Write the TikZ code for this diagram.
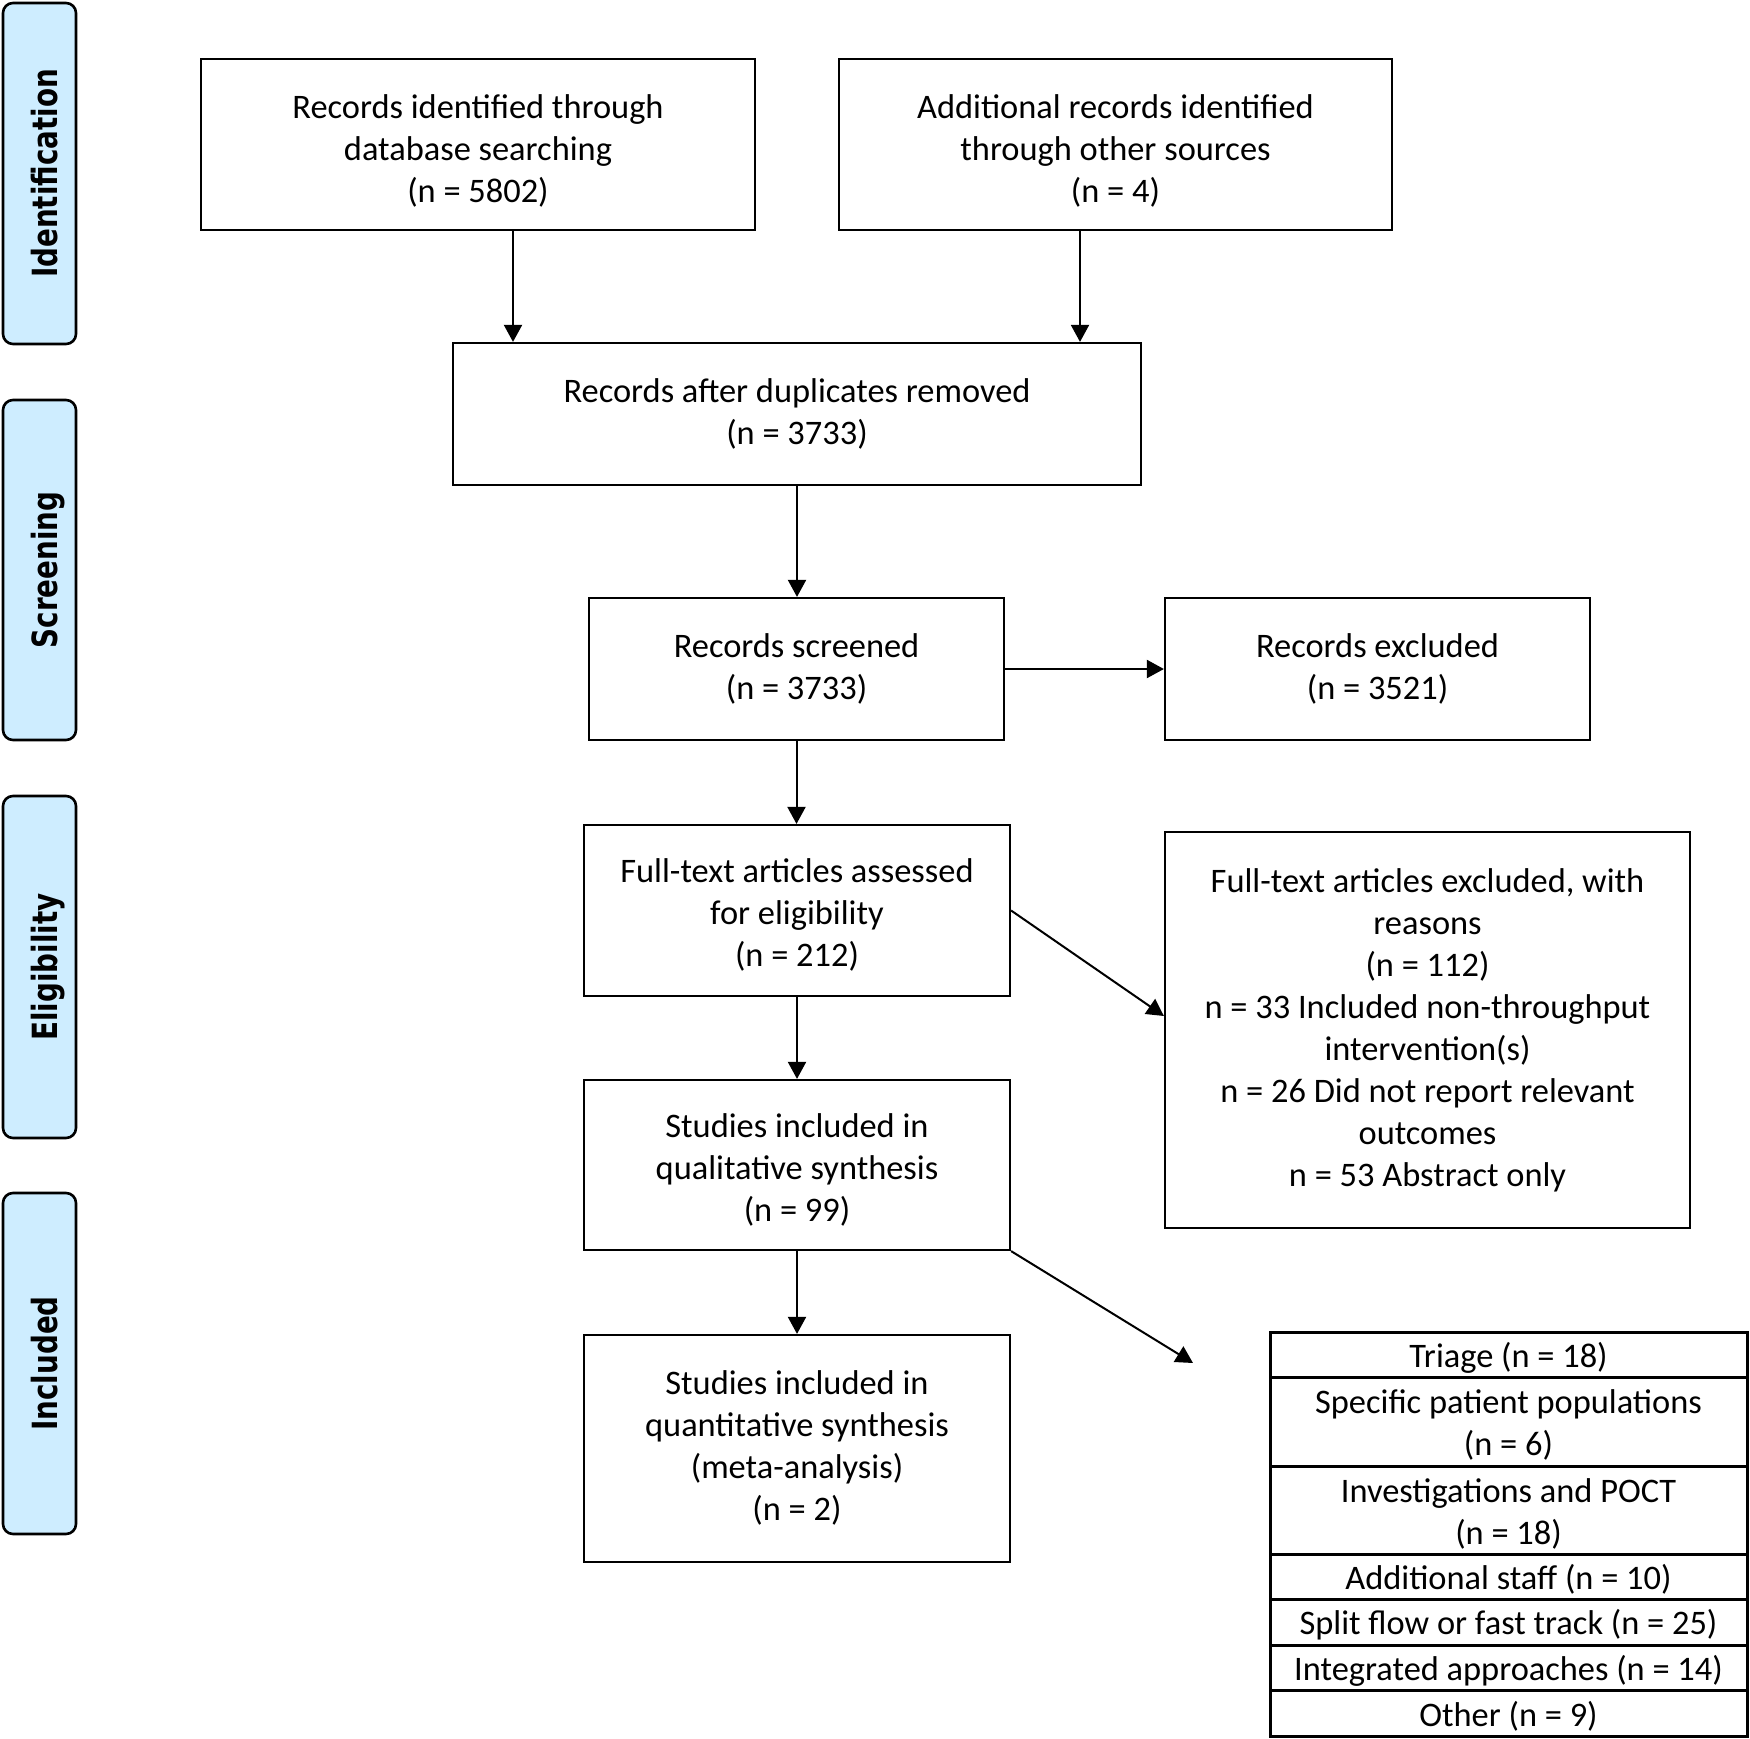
\documentclass[tikz,border=0pt]{standalone}
\usepackage{fontspec}
\setmainfont{Carlito}
\newfontfamily\tabfont[FakeStretch=0.8]{DejaVu Sans}
\usetikzlibrary{arrows.meta,calc}
\definecolor{tabblue}{RGB}{206,237,255}
\newcommand\tstrut[1]{\rule{0pt}{#1}}
\newcommand\bstrut[1]{\rule[-#1]{0pt}{0pt}}
\begin{document}
\begin{tikzpicture}[x=0.5pt,y=-0.5pt,
  box/.style={draw, line width=1.1pt, align=center, inner sep=0pt, font=\fontsize{17.2}{21}\selectfont},
  row/.style={draw, line width=1.5pt, align=center, inner sep=0pt, minimum width=238.5pt, font=\fontsize{17.2}{21}\selectfont},
  tab/.style={draw, line width=1.3pt, fill=tabblue, rounded corners=5pt, rotate=90, minimum height=36.5pt, inner sep=0pt, text height=18.4pt, text depth=0pt, font=\tabfont\bfseries\fontsize{17.35}{20}\selectfont},
  arr/.style={line width=1pt, -{Triangle[length=8.5pt,width=9pt]}}]
\useasboundingbox (0,0) rectangle (1750,1739);
% phase tabs
\node[tab, minimum width=170.5pt] (t1) at (39.5,173.5) {Identification};
\node[tab, minimum width=170pt] (t2) at (39.5,570) {Screening};
\node[tab, minimum width=171pt] (t3) at (39.5,967) {Eligibility};
\node[tab, minimum width=170.5pt] (t4) at (39.5,1363.5) {Included};
% boxes
\node[box, minimum width=277pt, minimum height=85.5pt] (b1) at (478,144.5) {\tstrut{18pt}Records identified through\\database searching\\(n = 5802)};
\node[box, minimum width=276.5pt, minimum height=85.5pt] (b2) at (1115.5,144.5) {\tstrut{18pt}Additional records identified\\through other sources\\(n = 4)};
\node[box, minimum width=344pt, minimum height=71pt] (b3) at (797,414) {Records after duplicates removed\\(n = 3733)};
\node[box, minimum width=207.5pt, minimum height=71pt] (b4) at (796.5,669) {Records screened\\(n = 3733)};
\node[box, minimum width=212.5pt, minimum height=71pt] (b5) at (1377.5,669) {Records excluded\\(n = 3521)};
\node[box, minimum width=213pt, minimum height=85.5pt] (b6) at (797,910.5) {\tstrut{16.4pt}Full-text articles assessed\\for eligibility\\(n = 212)};
\node[box, minimum width=213pt, minimum height=85pt] (b7) at (797,1165) {\tstrut{17.2pt}Studies included in\\qualitative synthesis\\(n = 99)};
\node[box, minimum width=262.5pt, minimum height=198pt] (b8) at (1427.5,1030) {Full-text articles excluded, with\\reasons\\(n = 112)\\n = 33 Included non-throughput\\intervention(s)\\n = 26 Did not report relevant\\outcomes\\n = 53 Abstract only};
\node[box, minimum width=213pt, minimum height=113.5pt] (b9) at (797,1448.5) {Studies included in\\quantitative synthesis\\(meta-analysis)\\(n = 2)\bstrut{3.3pt}};
% category table
\node[row, minimum height=22.5pt] (r1) at (1508.5,1354.5) {\tstrut{15.5pt}Triage (n = 18)};
\node[row, minimum height=44.5pt] (r2) at (1508.5,1421.5) {\tstrut{15.5pt}Specific patient populations\\(n = 6)};
\node[row, minimum height=44pt] (r3) at (1508.5,1510) {\tstrut{15.5pt}Investigations and POCT\\(n = 18)};
\node[row, minimum height=22.5pt] (r4) at (1508.5,1576.5) {\tstrut{15.5pt}Additional staff (n = 10)};
\node[row, minimum height=23pt] (r5) at (1508.5,1622) {\tstrut{15.5pt}Split flow or fast track (n = 25)};
\node[row, minimum height=22.5pt] (r6) at (1508.5,1667.5) {\tstrut{15.5pt}Integrated approaches (n = 14)};
\node[row, minimum height=23pt] (r7) at (1508.5,1713) {\tstrut{15.5pt}Other (n = 9)};
% connectors
\coordinate (c1) at ([yshift=7pt]b8.west);
\coordinate (c2) at (1193,1363);
\draw[arr] ([xshift=17.5pt]b1.south) -- ([xshift=17.5pt]b1.south |- b3.north);
\draw[arr] ([xshift=-17.75pt]b2.south) -- ([xshift=-17.75pt]b2.south |- b3.north);
\draw[arr] (b3.south) -- (b3.south |- b4.north);
\draw[arr] (b4.east) -- (b5.west);
\draw[arr] (b4.south) -- (b4.south |- b6.north);
\draw[arr] (b6.east) -- (c1);
\draw[arr] (b6.south) -- (b6.south |- b7.north);
\draw[arr] (b7.south) -- (b7.south |- b9.north);
\draw[arr] (b7.south east) -- (c2);
\end{tikzpicture}
\end{document}
